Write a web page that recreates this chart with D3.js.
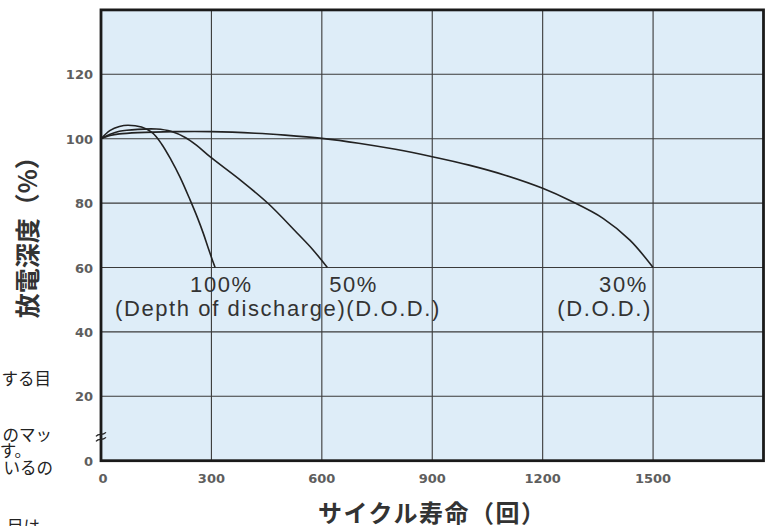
<!DOCTYPE html>
<html><head><meta charset="utf-8">
<script src="https://cdn.jsdelivr.net/npm/d3@7"></script>
<style>body{margin:0;background:#fff;}svg{display:block}</style>
</head><body>
<svg id="c" width="771" height="526"></svg>
<script>
// ---- data ----
const xTicks = [0, 300, 600, 900, 1200, 1500];
const yTicks = [0, 20, 40, 60, 80, 100, 120];

const cycles100 = [0, 25, 50, 73, 110, 140, 165, 190, 215, 242, 262, 278, 292, 303, 310];
const depth100  = [100, 102.6, 103.8, 104.2, 103.6, 101.8, 98.3, 93.5, 88, 81, 75.5, 70.6, 65.8, 62.2, 60];

const cycles50 = [0, 25, 50, 100, 150, 190, 230, 260, 296, 378, 455, 532, 575, 615];
const depth50  = [100, 101.4, 102.3, 102.9, 103, 102.3, 100.3, 97.9, 94.4, 87.2, 79.8, 70.8, 65.6, 60];

const cycles30 = [0, 25, 50, 100, 200, 300, 420, 500, 600, 700, 800, 900, 1000, 1100, 1200, 1274, 1365, 1437, 1500];
const depth30  = [100, 101, 101.5, 101.9, 102.2, 102.2, 101.7, 101.1, 100.1, 98.6, 96.7, 94.4, 91.8, 88.6, 84.6, 80.8, 75.2, 68.5, 60];

const sideText = ["する目", "のマッ", "す。", "いるの", "目は"];

// ---- layout ----
const svg = d3.select("#c");
const x = d3.scaleLinear().domain([0, 1800]).range([101, 763.5]);
const y = d3.scaleLinear().domain([0, 140]).range([460.7, 9.9]);

// plot background
svg.append("rect").attr("x", x(0)).attr("y", y(140))
  .attr("width", x(1800) - x(0)).attr("height", y(0) - y(140))
  .attr("fill", "#deedf8");

// grid
svg.append("g").selectAll("line").data(xTicks.filter(d => d > 0)).join("line")
  .attr("x1", d => x(d)).attr("x2", d => x(d)).attr("y1", y(0)).attr("y2", y(140))
  .attr("stroke", "#3a3a3a").attr("stroke-width", 1.1);
svg.append("g").selectAll("line").data(yTicks.filter(d => d > 0)).join("line")
  .attr("y1", d => y(d)).attr("y2", d => y(d)).attr("x1", x(0)).attr("x2", x(1800))
  .attr("stroke", "#3a3a3a").attr("stroke-width", 1.1);

// curves
const line = d3.line().x(d => x(d[0])).y(d => y(d[1])).curve(d3.curveCatmullRom.alpha(0.5));
const series = [
  d3.zip(cycles100, depth100),
  d3.zip(cycles50, depth50),
  d3.zip(cycles30, depth30)
];
svg.append("g").selectAll("path").data(series).join("path")
  .attr("d", line).attr("fill", "none").attr("stroke", "#222").attr("stroke-width", 1.6);

// border
svg.append("rect").attr("x", x(0)).attr("y", y(140))
  .attr("width", x(1800) - x(0)).attr("height", y(0) - y(140))
  .attr("fill", "none").attr("stroke", "#1a1a1a").attr("stroke-width", 2.8);

// axis break mark
const bm = svg.append("g").attr("fill", "none").attr("stroke", "#222").attr("stroke-width", 1.3);
[0, 5].forEach(o => {
  const cy = y(7.4) + o - 2.5;
  bm.append("path").attr("d", `M${x(0)-5},${cy+2} C${x(0)-2},${cy-2} ${x(0)+1},${cy+2} ${x(0)+5},${cy-2}`);
});

// tick labels
const tickFont = "'DejaVu Sans', sans-serif";
svg.append("g").selectAll("text").data(xTicks).join("text")
  .attr("x", d => x(d) + (d === 0 ? 2 : 0)).attr("y", 483)
  .attr("text-anchor", "middle").attr("font-family", tickFont).attr("font-weight", "bold")
  .attr("font-size", 13).attr("fill", "#5e5e5e").text(d => d);
svg.append("g").selectAll("text").data(yTicks).join("text")
  .attr("x", 93).attr("y", d => y(d) + 5)
  .attr("text-anchor", "end").attr("font-family", tickFont).attr("font-weight", "bold")
  .attr("font-size", 13).attr("fill", "#5e5e5e").text(d => d);

// axis titles
const cjk = "'Noto Sans CJK JP', sans-serif";
svg.append("text").attr("transform", `translate(26,${(y(0)+y(140))/2 - 4}) rotate(-90)`)
  .attr("text-anchor", "middle").attr("dominant-baseline", "central")
  .attr("font-family", cjk).attr("font-weight", "bold").attr("font-size", 25).attr("fill", "#333")
  .text("放電深度（%）");
svg.append("text").attr("x", (x(0) + x(1800)) / 2).attr("y", 511)
  .attr("text-anchor", "middle").attr("dominant-baseline", "central")
  .attr("font-family", cjk).attr("font-weight", "bold").attr("font-size", 24).attr("fill", "#333")
  .attr("letter-spacing", 1.5)
  .text("サイクル寿命（回）");

// curve labels
const lab = svg.append("g").attr("font-family", "'Liberation Sans', Arial, sans-serif")
  .attr("font-size", 22).attr("fill", "#333").attr("letter-spacing", 1.6);
lab.append("text").attr("x", x(242)).attr("y", y(52.3)).text("100%");
lab.append("text").attr("x", x(38)).attr("y", y(45)).text("(Depth of discharge)(D.O.D.)");
lab.append("text").attr("x", x(620)).attr("y", y(52.3)).text("50%");
lab.append("text").attr("x", x(1486)).attr("y", y(52.3)).attr("text-anchor", "end").text("30%");
lab.append("text").attr("x", x(1497)).attr("y", y(45)).attr("text-anchor", "end").text("(D.O.D.)");

// cropped side text fragments
const sideY = [385, 441, 457, 474, 533];
const sideX = [51, 52, 31, 53, 40];
svg.append("g").selectAll("text").data(sideText).join("text")
  .attr("x", (d, i) => sideX[i]).attr("y", (d, i) => sideY[i])
  .attr("text-anchor", "end").attr("font-family", cjk).attr("font-size", 16.5).attr("fill", "#222")
  .text(d => d);
</script>
</body></html>
